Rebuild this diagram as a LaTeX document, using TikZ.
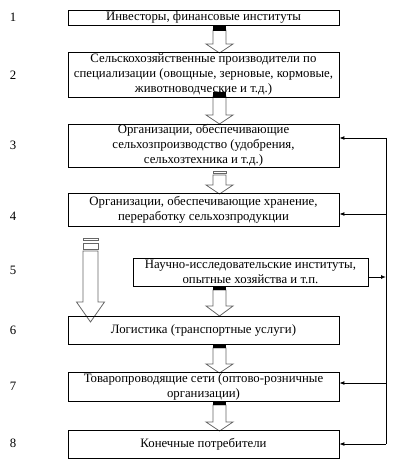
\documentclass[tikz,border=0pt]{standalone}
\usepackage{fontspec}
\setmainfont{Liberation Serif}
\usetikzlibrary{arrows.meta}
\newcommand{\blockarr}[6]{% cx, shaft top, tip, shaft half, head half, head length
  \draw[blk] ({#1-#4},{#2}) -- ({#1-#4},{#3-#6}) -- ({#1-#5},{#3-#6}) -- ({#1},{#3})
     -- ({#1+#5},{#3-#6}) -- ({#1+#4},{#3-#6}) -- ({#1+#4},{#2}) -- cycle;}
\newcommand{\bandfill}[4]{% cx, top, bottom, half
  \fill[black] ({#1-#4},{#2}) rectangle ({#1+#4},{#3});}
\newcommand{\bandline}[4]{%
  \draw[blk] ({#1-#4},{#2}) rectangle ({#1+#4},{#3});}
\begin{document}
\begin{tikzpicture}[x=1pt,y=-1pt,
  txt/.style={font=\fontsize{12.8}{15}\selectfont},
  box/.style={draw, line width=0.8pt, align=center, inner sep=0pt, txt,
    minimum width=271pt},
  num/.style={txt, inner sep=0pt},
  blk/.style={draw=black!60, line width=0.8pt, fill=white},
  conn/.style={line width=0.9pt, -{Latex[length=5pt,width=4pt]}},
  bus/.style={line width=1pt}]
\useasboundingbox (0,0) rectangle (403,473);
% block arrows
\blockarr{219.5}{30}{53}{6.5}{13.5}{9}
\bandfill{219.5}{25}{31}{6.5}
\blockarr{219.5}{96}{124}{6.5}{13.5}{9}
\bandfill{219.5}{92}{97}{6.5}
\blockarr{219.5}{175}{194}{6.5}{13.5}{9}
\bandline{219.5}{171}{173.5}{6.5}
\blockarr{219.5}{290}{316}{6.5}{13.5}{10}
\bandfill{219.5}{286}{290}{6.5}
\blockarr{219.5}{348}{373}{6.5}{13.5}{9}
\bandfill{219.5}{344}{347.5}{6.5}
\blockarr{219.5}{405}{431}{6.5}{13.5}{9}
\bandfill{219.5}{401}{405}{6.5}
% left big arrow
\blockarr{90.5}{251}{322}{7.5}{14}{20}
\bandline{90.5}{238}{240.5}{7.5}
\bandline{90.5}{243}{249}{7.5}
% boxes
\node[box, minimum height=15pt] (b1) at (203.5,17.5) {Инвесторы, финансовые институты};
\node[box, minimum height=45pt] (b2) at (203.5,74.5) {Сельскохозяйственные производители по\\специализации (овощные, зерновые, кормовые,\\животноводческие и т.д.)};
\node[box, minimum height=43pt] (b3) at (203.5,145.5) {Организации, обеспечивающие\\сельхозпроизводство (удобрения,\\сельхозтехника и т.д.)};
\node[box, minimum height=33pt] (b4) at (203.5,209.5) {Организации, обеспечивающие хранение,\\переработку сельхозпродукции};
\node[box, minimum height=28pt, minimum width=235pt] (b5) at (250.5,272) {Научно-исследовательские институты,\\опытные хозяйства и т.п.};
\node[box, minimum height=28pt] (b6) at (203.5,330) {Логистика (транспортные услуги)};
\node[box, minimum height=29pt] (b7) at (203.5,386.5) {Товаропроводящие сети (оптово-розничные\\организации)};
\node[box, minimum height=28pt] (b8) at (203.5,444) {Конечные потребители};
% numbers
\node[num] (n1) at (13,17) {1};
\node[num] (n2) at (13,75) {2};
\node[num] (n3) at (13,145) {3};
\node[num] (n4) at (13,216) {4};
\node[num] (n5) at (13,270) {5};
\node[num] (n6) at (13,330) {6};
\node[num] (n7) at (13,386) {7};
\node[num] (n8) at (13,443) {8};
% right bus
\coordinate (r3) at (386,138);
\coordinate (r4) at (386,214);
\coordinate (r5) at (386,277);
\coordinate (r7) at (386,383);
\coordinate (r8) at (386,444);
\draw[bus] (r3) -- (r8);
\draw[conn] (r3) -- (b3.east |- r3);
\draw[conn] (r4) -- (b4.east |- r4);
\draw[conn] (r7) -- (b7.east |- r7);
\draw[conn] (r8) -- (b8.east |- r8);
\draw[conn] (b5.east |- r5) -- (r5);
\end{tikzpicture}
\end{document}
